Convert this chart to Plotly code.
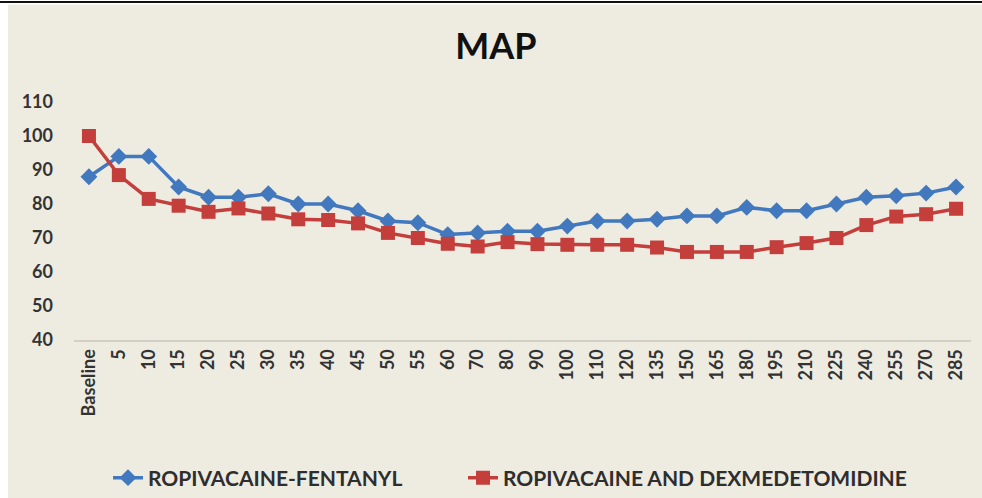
import plotly.graph_objects as go

# Time points (minutes) and mean arterial pressure for each group
time_points = ["Baseline", "5", "10", "15", "20", "25", "30", "35", "40", "45",
               "50", "55", "60", "70", "80", "90", "100", "110", "120", "135",
               "150", "165", "180", "195", "210", "225", "240", "255", "270", "285"]

ropi_fentanyl = [88, 94, 94, 85, 82, 82, 83, 80, 80, 78,
                 75, 74.5, 71, 71.5, 72, 72, 73.5, 75, 75, 75.5,
                 76.5, 76.5, 79, 78, 78, 80, 82, 82.4, 83.2, 85]

ropi_dexmed = [100, 88.5, 81.5, 79.5, 77.7, 78.7, 77.2, 75.5, 75.3, 74.3,
               71.5, 70, 68.3, 67.5, 68.8, 68.2, 68, 68, 68, 67.2,
               65.9, 65.9, 65.9, 67.3, 68.5, 70, 73.8, 76.3, 77, 78.6]

y_ticks = [40, 50, 60, 70, 80, 90, 100, 110]

W, H = 982, 498
ML, MR, MT, MB = 74, 11, 102, 158
PW, PH = W - ML - MR, H - MT - MB

BEIGE = "#EEEBE1"
BLUE = "#4178BE"
RED = "#C43E3C"
FONT = "Lato"


def px_x(px):
    return (px - ML) / PW


def px_y(py):
    return (H - MB - py) / PH


def legend_box(left_px):
    # one horizontal legend per series, placed in container pixels
    return dict(
        visible=True,
        orientation="h", xref="container", yref="container",
        x=left_px / W, xanchor="left", y=1 - 478 / H, yanchor="middle",
        font=dict(family=FONT, size=21, color="#2E2E2E", weight="bold"),
        bgcolor="rgba(0,0,0,0)",
    )


fig = go.Figure()

fig.add_trace(go.Scatter(
    x=time_points, y=ropi_fentanyl, name="ROPIVACAINE-FENTANYL",
    mode="lines+markers",
    line=dict(color=BLUE, width=3.5),
    marker=dict(symbol="diamond", size=13, color=BLUE),
    legend="legend", showlegend=True,
))

fig.add_trace(go.Scatter(
    x=time_points, y=ropi_dexmed, name="ROPIVACAINE AND DEXMEDETOMIDINE",
    mode="lines+markers",
    line=dict(color=RED, width=3.5),
    marker=dict(symbol="square", size=14, color=RED),
    legend="legend2", showlegend=True,
))

shapes = [
    # white frame strips around the beige panel
    dict(type="rect", xref="paper", yref="paper", layer="below",
         x0=px_x(0), x1=px_x(8), y0=px_y(H), y1=px_y(0),
         fillcolor="white", line_width=0),
    dict(type="rect", xref="paper", yref="paper", layer="below",
         x0=px_x(0), x1=px_x(W), y0=px_y(4.5), y1=px_y(0),
         fillcolor="white", line_width=0),
    # dark rule across the top edge
    dict(type="rect", xref="paper", yref="paper", layer="above",
         x0=px_x(0), x1=px_x(W), y0=px_y(3), y1=px_y(1),
         fillcolor="#111111", line_width=0),
]

fig.update_layout(
    width=W, height=H,
    showlegend=True,
    margin=dict(l=ML, r=MR, t=MT, b=MB, autoexpand=False),
    paper_bgcolor=BEIGE, plot_bgcolor=BEIGE,
    title=dict(text="MAP", x=496 / W, xref="container", xanchor="center",
               y=1 - 46 / H, yref="container", yanchor="middle",
               font=dict(family=FONT, size=36, color="#111111", weight="bold")),
    xaxis=dict(
        type="category", range=[-0.5, len(time_points) - 0.5],
        tickangle=-90, showgrid=False, zeroline=False,
        showline=True, linecolor="#D3CFC4", linewidth=2,
        ticks="", ticklabelstandoff=0,
        tickfont=dict(family=FONT, size=18, color="#333333", weight="bold"),
    ),
    yaxis=dict(
        range=[40, 110], tickvals=y_ticks, showgrid=False, zeroline=False,
        showline=False, ticks="", ticklabelstandoff=20,
        tickfont=dict(family=FONT, size=18, color="#333333", weight="bold"),
    ),
    legend=legend_box(108),
    legend2=legend_box(463),
    shapes=shapes,
)

fig.write_html("out.html")
